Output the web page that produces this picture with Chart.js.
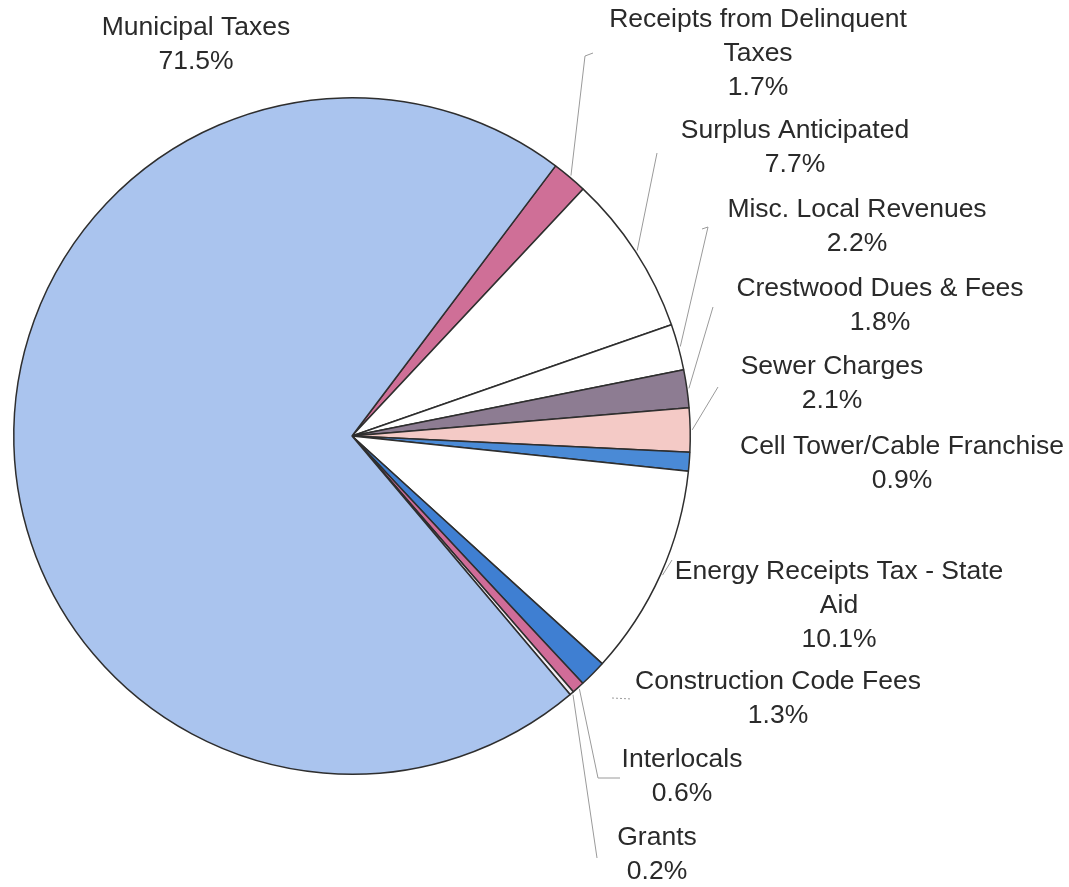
<!DOCTYPE html>
<html>
<head>
<meta charset="utf-8">
<script src="https://cdn.jsdelivr.net/npm/chart.js@4/dist/chart.umd.min.js"></script>
<style>
html,body{margin:0;padding:0;background:#fff;}
#wrap{width:1069px;height:887px;position:relative;}
</style>
</head>
<body>
<div id="wrap"><canvas id="c" width="1069" height="887"></canvas></div>
<script>
// ---- data ----
const categories = [
  "Receipts from Delinquent Taxes",
  "Surplus Anticipated",
  "Misc. Local Revenues",
  "Crestwood Dues & Fees",
  "Sewer Charges",
  "Cell Tower/Cable Franchise",
  "Energy Receipts Tax - State Aid",
  "Construction Code Fees",
  "Interlocals",
  "Grants",
  "Municipal Taxes"
];
const shares = [1.7, 7.7, 2.2, 1.8, 2.1, 0.9, 10.1, 1.3, 0.6, 0.2, 71.5];
const labelLines = [
  ["Receipts from Delinquent", "Taxes"],
  ["Surplus Anticipated"],
  ["Misc. Local Revenues"],
  ["Crestwood Dues & Fees"],
  ["Sewer Charges"],
  ["Cell Tower/Cable Franchise"],
  ["Energy Receipts Tax - State", "Aid"],
  ["Construction Code Fees"],
  ["Interlocals"],
  ["Grants"],
  ["Municipal Taxes"]
];
const sliceColors = ["#cf6f97","#ffffff","#ffffff","#8d7c92","#f4cac6","#4a8ad6","#ffffff","#3f7fd2","#d06c98","#f3eef3","#aac4ee"];

// ---- label layout (center x, first line center y) and leader paths ----
const labelPos = [
  [758, 20], [795, 131], [857, 210], [880, 289], [832, 367], [902, 447],
  [839, 572], [778, 682], [682, 760], [657, 838], [196, 28]
];
// fromArc: leader starts at the slice's outer edge; otherwise path is free-standing
const leaders = [
  {fromArc: true, path: [[585, 56], [593, 53]]},
  {fromArc: true, path: [[657, 153]]},
  {fromArc: true, path: [[708, 227], [702, 229]]},
  {fromArc: true, path: [[713, 307]]},
  {fromArc: true, path: [[718, 387]]},
  null,
  {fromArc: true, path: [[672, 560]]},
  {fromArc: false, path: [[612, 698], [632, 699]], dash: [2, 2]},
  {fromArc: true, path: [[598, 778], [620, 778]]},
  {fromArc: true, path: [[597, 858]]},
  null
];
const lineH = 34;

const labelPlugin = {
  id: 'sliceLabels',
  afterDatasetsDraw(chart) {
    const ctx = chart.ctx;
    const meta = chart.getDatasetMeta(0);
    ctx.save();
    ctx.strokeStyle = '#9a9a9a';
    ctx.lineWidth = 1;
    meta.data.forEach((arc, i) => {
      const L = leaders[i];
      if (!L) return;
      const p = arc.getProps(['x','y','startAngle','endAngle','outerRadius'], true);
      const mid = (p.startAngle + p.endAngle) / 2;
      const r = p.outerRadius + 2;
      ctx.setLineDash(L.dash || []);
      ctx.beginPath();
      if (L.fromArc) {
        ctx.moveTo(p.x + Math.cos(mid) * r, p.y + Math.sin(mid) * r);
        L.path.forEach(pt => ctx.lineTo(pt[0], pt[1]));
      } else {
        ctx.moveTo(L.path[0][0], L.path[0][1]);
        L.path.slice(1).forEach(pt => ctx.lineTo(pt[0], pt[1]));
      }
      ctx.stroke();
    });
    ctx.setLineDash([]);
    ctx.fillStyle = '#2a2a2a';
    ctx.font = '26.5px "Liberation Sans", Arial, sans-serif';
    ctx.textAlign = 'center';
    ctx.textBaseline = 'middle';
    meta.data.forEach((arc, i) => {
      const lines = labelLines[i].concat([shares[i].toFixed(1) + '%']);
      const [cx, cy] = labelPos[i];
      lines.forEach((t, k) => ctx.fillText(t, cx, cy + k * lineH));
    });
    ctx.restore();
  }
};

new Chart(document.getElementById('c'), {
  type: 'pie',
  data: {
    labels: categories,
    datasets: [{
      data: shares,
      backgroundColor: sliceColors,
      borderColor: '#2e2e2e',
      borderWidth: 1.5
    }]
  },
  options: {
    responsive: false,
    animation: false,
    devicePixelRatio: 1,
    rotation: 37,
    layout: { padding: { left: 13, top: 97, right: 378, bottom: 112 } },
    plugins: { legend: { display: false }, tooltip: { enabled: false } }
  },
  plugins: [labelPlugin]
});
</script>
</body>
</html>
